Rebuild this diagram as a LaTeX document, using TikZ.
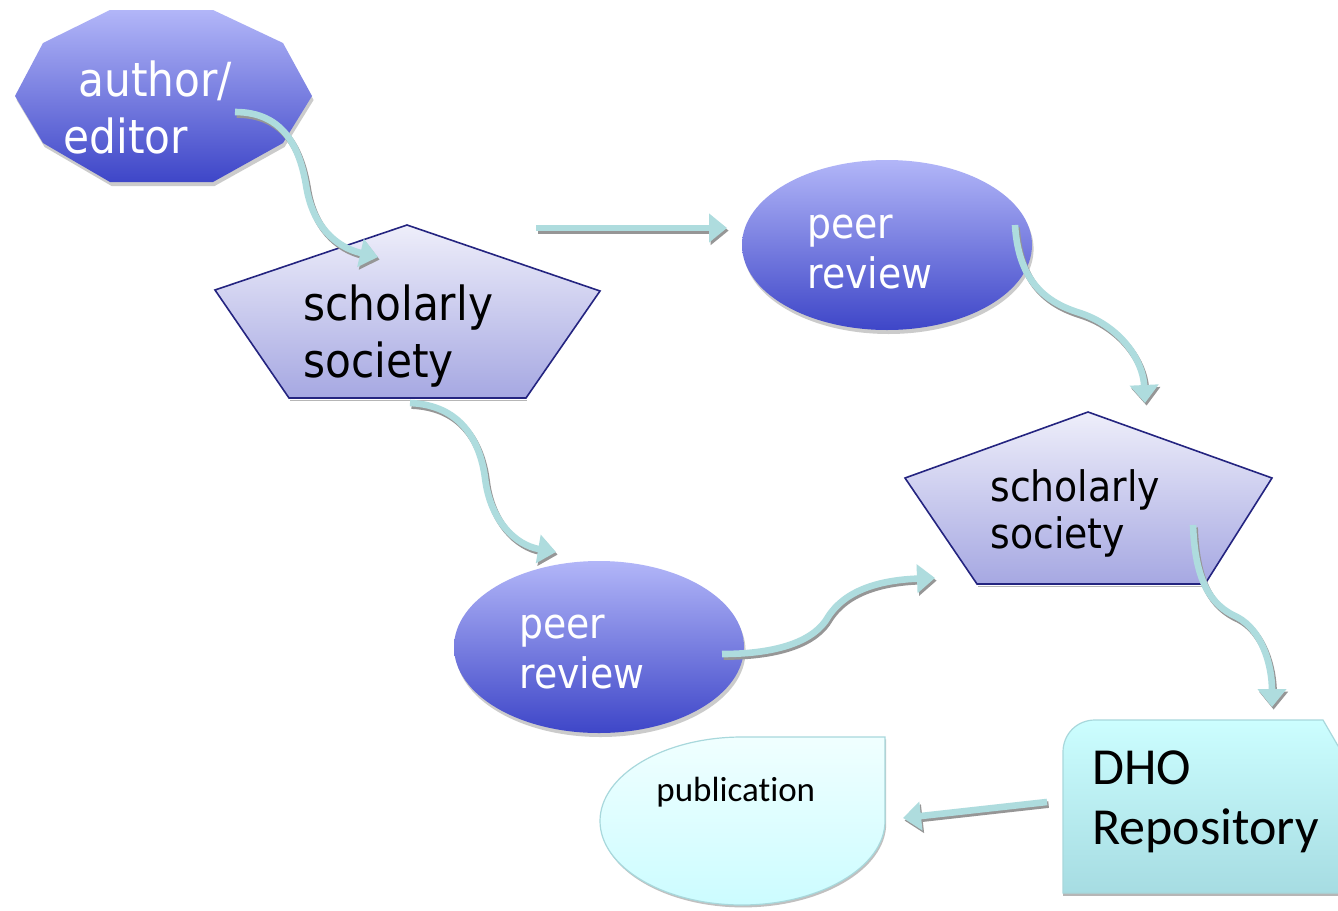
\documentclass[tikz,border=0pt]{standalone}
\usepackage{fontspec}
\setmainfont{DejaVu Sans}
\newfontfamily\condfont{DejaVu Sans Condensed}
\newfontfamily\calfont[Ligatures=NoCommon]{Carlito}
\usetikzlibrary{arrows.meta,shapes.geometric}
\definecolor{blueTop}{RGB}{178,182,248}
\definecolor{blueBot}{RGB}{62,70,200}
\definecolor{pentTop}{RGB}{238,238,250}
\definecolor{pentBot}{RGB}{166,168,226}
\definecolor{pentLine}{RGB}{36,36,128}
\definecolor{flowTeal}{RGB}{174,220,222}
\definecolor{shadowGray}{RGB}{150,150,150}
\definecolor{pubTop}{RGB}{240,255,255}
\definecolor{pubBot}{RGB}{204,252,255}
\definecolor{pubLine}{RGB}{168,216,220}
\definecolor{dhoTop}{RGB}{204,254,255}
\definecolor{dhoBot}{RGB}{166,220,226}
\begin{document}
\begin{tikzpicture}[x=0.5pt,y=-0.5pt,
  flow/.style={line width=3.3pt, draw=flowTeal, -{Triangle[width=14pt,length=9pt]}},
  flowshadow/.style={line width=3.3pt, draw=shadowGray, -{Triangle[width=14pt,length=9pt]},
     transform canvas={shift={(0.8pt,-1.3pt)}}},
  blueshape/.style={top color=blueTop, bottom color=blueBot},
  blueshadow/.style={fill=black!45, opacity=0.45, transform canvas={shift={(0.8pt,-2pt)}}},
  pentshape/.style={top color=pentTop, bottom color=pentBot, draw=pentLine, line width=0.8pt},
  wtext/.style={anchor=base west, inner sep=0pt, text=white},
  btext/.style={anchor=base west, inner sep=0pt, text=black}]
\useasboundingbox[fill=white] (0,0) rectangle (1338,910);

% ---------- author / editor (decagon)
\fill[blueshadow] (15,96) -- (43,43) -- (110,10) -- (213,10) -- (283,43) -- (312,96) -- (283,143) -- (213,182) -- (110,182) -- (43,143) -- cycle;
\path[blueshape] (15,96) -- (43,43) -- (110,10) -- (213,10) -- (283,43) -- (312,96) -- (283,143) -- (213,182) -- (110,182) -- (43,143) -- cycle;
\node[wtext, font=\condfont\fontsize{23.5}{28.5}\selectfont] (author) at (63,96)
  {\begin{tabular}[t]{@{}l@{}}\hspace*{7.5pt}author/\\editor\end{tabular}};

% ---------- scholarly society 1
\fill[shadowGray!70, transform canvas={shift={(0.5pt,-1.2pt)}}] (289,398) -- (526,398) -- (526,399) -- (289,399) -- cycle;
\path[pentshape] (407,225) -- (600,291) -- (526,398) -- (289,398) -- (215,290) -- cycle;
\node[btext, font=\condfont\fontsize{23.5}{28.5}\selectfont] (soc1) at (303,320)
  {\begin{tabular}[t]{@{}l@{}}scholarly\\society\end{tabular}};

% ---------- peer review 1
\fill[blueshadow] (887,245) ellipse[x radius=72.5pt, y radius=42.5pt];
\path[blueshape] (887,245) ellipse[x radius=72.5pt, y radius=42.5pt];
\node[wtext, font=\condfont\fontsize{21}{25}\selectfont] (peer1) at (807,238)
  {\begin{tabular}[t]{@{}l@{}}peer\\review\end{tabular}};

% ---------- scholarly society 2
\fill[shadowGray!70, transform canvas={shift={(0.5pt,-1.2pt)}}] (977,584) -- (1205,584) -- (1205,585) -- (977,585) -- cycle;
\path[pentshape] (1088,412) -- (1272,478) -- (1205,584) -- (977,584) -- (905,478) -- cycle;
\node[btext, font=\condfont\fontsize{21}{23.5}\selectfont] (soc2) at (990,501)
  {\begin{tabular}[t]{@{}l@{}}scholarly\\society\end{tabular}};

% ---------- peer review 2
\fill[blueshadow] (599,647) ellipse[x radius=72.5pt, y radius=43pt];
\path[blueshape] (599,647) ellipse[x radius=72.5pt, y radius=43pt];
\node[wtext, font=\condfont\fontsize{21}{25}\selectfont] (peer2) at (519,638)
  {\begin{tabular}[t]{@{}l@{}}peer\\review\end{tabular}};

% ---------- publication
\fill[shadowGray!60, transform canvas={shift={(0.6pt,-1.2pt)}}] (885,737) -- (885,821) .. controls (885,867) and (820,905) .. (742,905) .. controls (664,905) and (600,867) .. (600,821) .. controls (600,775) and (664,737) .. (742,737) -- cycle;
\path[top color=pubTop, bottom color=pubBot, draw=pubLine, line width=0.6pt]
  (885,737) -- (885,821) .. controls (885,867) and (820,905) .. (742,905) .. controls (664,905) and (600,867) .. (600,821) .. controls (600,775) and (664,737) .. (742,737) -- cycle;
\node[btext, font=\calfont\fontsize{17.5}{21}\selectfont] (pub) at (656,801) {publication};

% ---------- DHO Repository
\fill[shadowGray!70] (1063,893) rectangle (1338,896);
\path[top color=dhoTop, bottom color=dhoBot, draw=pubLine, line width=0.6pt]
  (1063,893) -- (1063,752) .. controls (1063,734) and (1077,720) .. (1095,720) -- (1323,720) -- (1352,770) -- (1352,893) -- cycle;
\node[btext, font=\calfont\fontsize{26}{30}\selectfont] (dho) at (1092,784)
  {\begin{tabular}[t]{@{}l@{}}DHO\\Repository\end{tabular}};

% ---------- connector end points
\coordinate (a1s) at (235,112);  \coordinate (a1e) at (378,257);
\coordinate (a2s) at (536,228);  \coordinate (a2e) at (727,228);
\coordinate (a3s) at (1015,225); \coordinate (a3e) at (1145,403);
\coordinate (a4s) at (410,403);  \coordinate (a4e) at (556,552);
\coordinate (a5s) at (722,654);  \coordinate (a5e) at (935,578);
\coordinate (a6s) at (1193,525); \coordinate (a6e) at (1272,707);
\coordinate (a7s) at (1047,802); \coordinate (a7e) at (903,818);

% ---------- connectors (shadows)
\draw[flowshadow] (a1s) .. controls (285,112) and (300,150) .. (306,185) .. controls (312,225) and (335,247) .. (a1e);
\draw[flowshadow] (a2s) -- (a2e);
\draw[flowshadow] (a3s) .. controls (1018,275) and (1040,300) .. (1077,312) .. controls (1120,325) and (1143,360) .. (a3e);
\draw[flowshadow] (a4s) .. controls (460,405) and (480,440) .. (485,478) .. controls (490,520) and (515,545) .. (a4e);
\draw[flowshadow] (a5s) .. controls (780,654) and (815,640) .. (828,617) .. controls (845,590) and (880,580) .. (a5e);
\draw[flowshadow] (a6s) .. controls (1195,580) and (1210,605) .. (1237,617) .. controls (1262,630) and (1272,665) .. (a6e);
\draw[flowshadow] (a7s) -- (a7e);
% ---------- connectors
\draw[flow] (a1s) .. controls (285,112) and (300,150) .. (306,185) .. controls (312,225) and (335,247) .. (a1e);
\draw[flow] (a2s) -- (a2e);
\draw[flow] (a3s) .. controls (1018,275) and (1040,300) .. (1077,312) .. controls (1120,325) and (1143,360) .. (a3e);
\draw[flow] (a4s) .. controls (460,405) and (480,440) .. (485,478) .. controls (490,520) and (515,545) .. (a4e);
\draw[flow] (a5s) .. controls (780,654) and (815,640) .. (828,617) .. controls (845,590) and (880,580) .. (a5e);
\draw[flow] (a6s) .. controls (1195,580) and (1210,605) .. (1237,617) .. controls (1262,630) and (1272,665) .. (a6e);
\draw[flow] (a7s) -- (a7e);
\end{tikzpicture}
\end{document}
